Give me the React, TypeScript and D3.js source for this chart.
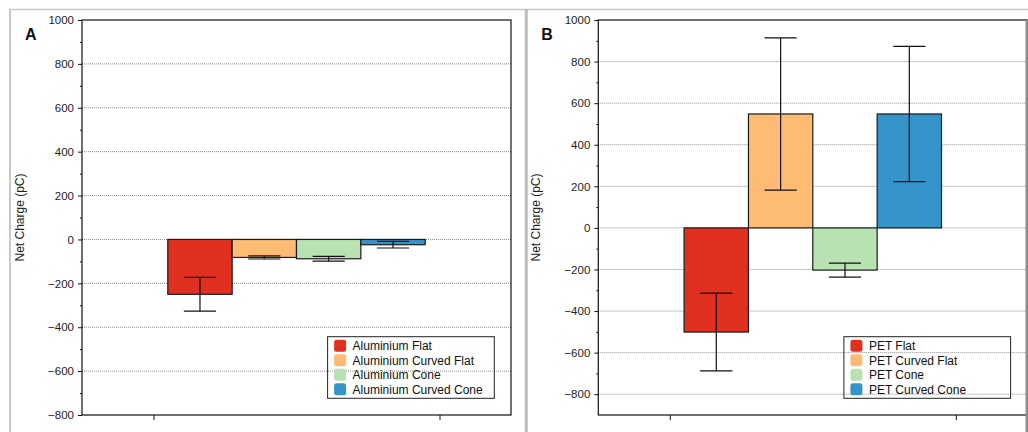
import React, { useEffect, useRef } from 'react';
import * as d3 from 'd3';

const aluLabels = ['Aluminium Flat', 'Aluminium Curved Flat', 'Aluminium Cone', 'Aluminium Curved Cone'];
const aluMeans = [-250, -82, -88, -24];
const aluErr = [77, 7, 11, 15];

const petLabels = ['PET Flat', 'PET Curved Flat', 'PET Cone', 'PET Curved Cone'];
const petMeans = [-501, 548, -203, 548];
const petErr = [187, 366, 34, 325];

const colors = ['#e1301f', '#fdbb74', '#b9e2b2', '#3594c8'];
const yTicks = [-800, -600, -400, -200, 0, 200, 400, 600, 800, 1000];

const W = 1028;
const H = 432;
const FONT = '"Liberation Sans", Arial, sans-serif';

type Panel = {
  tag: string;
  left: number;
  labels: string[];
  means: number[];
  errs: number[];
  yMin: number;
};

const drawPanel = (svg: d3.Selection<SVGSVGElement, unknown, null, undefined>, p: Panel) => {
  const top = 20;
  const bottom = 415;
  const w = 429;
  const x0 = p.left;

  const g = svg.append('g');

  // x positions: two ticks at 1 and 5, bars grouped in the middle
  const x = d3.scaleLinear().domain([0, 6]).range([x0, x0 + w]);
  const band = d3.scaleBand<number>().domain(d3.range(p.labels.length)).range([x(1.2), x(4.8)]).padding(0);
  const y = d3.scaleLinear().domain([p.yMin, 1000]).range([bottom, top]);

  // gridlines
  g.selectAll('.grid')
    .data(yTicks.filter((t) => t > p.yMin && t < 1000))
    .enter()
    .append('line')
    .attr('x1', x0)
    .attr('x2', x0 + w)
    .attr('y1', (d) => y(d))
    .attr('y2', (d) => y(d))
    .attr('stroke', '#8a8a8a')
    .attr('stroke-width', 1)
    .attr('stroke-dasharray', '1,1');

  // bars
  g.selectAll('.bar')
    .data(p.means)
    .enter()
    .append('rect')
    .attr('x', (d, i) => band(i)!)
    .attr('width', band.bandwidth())
    .attr('y', (d) => y(Math.max(0, d)))
    .attr('height', (d) => Math.abs(y(d) - y(0)))
    .attr('fill', (d, i) => colors[i])
    .attr('stroke', '#1a1a1a')
    .attr('stroke-width', 1.2);

  // error bars
  const capW = band.bandwidth() / 2;
  const eb = g.selectAll('.eb').data(p.means).enter().append('g');
  eb.append('line')
    .attr('x1', (d, i) => band(i)! + band.bandwidth() / 2)
    .attr('x2', (d, i) => band(i)! + band.bandwidth() / 2)
    .attr('y1', (d, i) => y(d - p.errs[i]))
    .attr('y2', (d, i) => y(d + p.errs[i]))
    .attr('stroke', '#111')
    .attr('stroke-width', 1.2);
  [-1, 1].forEach((s) => {
    eb.append('line')
      .attr('x1', (d, i) => band(i)! + band.bandwidth() / 2 - capW / 2)
      .attr('x2', (d, i) => band(i)! + band.bandwidth() / 2 + capW / 2)
      .attr('y1', (d, i) => y(d + s * p.errs[i]))
      .attr('y2', (d, i) => y(d + s * p.errs[i]))
      .attr('stroke', '#111')
      .attr('stroke-width', 1.2);
  });

  // frame
  g.append('rect')
    .attr('x', x0)
    .attr('y', top)
    .attr('width', w)
    .attr('height', bottom - top)
    .attr('fill', 'none')
    .attr('stroke', '#111')
    .attr('stroke-width', 1.2);

  // y axis
  const yAxis = g
    .append('g')
    .attr('transform', `translate(${x0},0)`)
    .call(d3.axisLeft(y).tickValues(yTicks).tickSize(4).tickPadding(4).tickFormat(d3.format('d')));
  yAxis.select('.domain').remove();
  yAxis.selectAll('text').attr('font-family', FONT).attr('font-size', 11.5).attr('fill', '#222');
  yAxis.selectAll('line').attr('stroke', '#111');

  const minor = g
    .append('g')
    .attr('transform', `translate(${x0},0)`)
    .call(d3.axisLeft(y).tickValues(d3.range(-700, 1000, 200).filter((t) => t > p.yMin)).tickSize(2).tickFormat(() => ''));
  minor.select('.domain').remove();
  minor.selectAll('line').attr('stroke', '#111');

  // x axis ticks
  const xAxis = g
    .append('g')
    .attr('transform', `translate(0,${bottom})`)
    .call(d3.axisBottom(x).tickValues([1, 5]).tickSize(5).tickFormat(() => ''));
  xAxis.select('.domain').remove();
  xAxis.selectAll('line').attr('stroke', '#111');

  // y title
  g.append('text')
    .attr('transform', `translate(${x0 - 58},${(top + bottom) / 2}) rotate(-90)`)
    .attr('text-anchor', 'middle')
    .attr('font-family', FONT)
    .attr('font-size', 12)
    .attr('fill', '#222')
    .text('Net Charge (pC)');

  // panel letter
  g.append('text')
    .attr('x', x0 - 57)
    .attr('y', 39.5)
    .attr('font-family', FONT)
    .attr('font-weight', 'bold')
    .attr('font-size', 16)
    .attr('fill', '#111')
    .text(p.tag);

  // legend
  const lw = 166.7;
  const lh = 61.6;
  const lx = x0 + w - 16.7 - lw;
  const ly = bottom - 16.7 - lh;
  const leg = g.append('g').attr('transform', `translate(${lx},${ly})`);
  leg.append('rect')
    .attr('width', lw)
    .attr('height', lh)
    .attr('fill', 'none')
    .attr('stroke', '#222')
    .attr('stroke-width', 1);
  const rows = leg
    .selectAll('.row')
    .data(p.labels)
    .enter()
    .append('g')
    .attr('transform', (d, i) => `translate(0,${9 + i * 14.5})`);
  rows.append('rect')
    .attr('x', 6.5)
    .attr('y', -6)
    .attr('width', 12)
    .attr('height', 12)
    .attr('rx', 2.5)
    .attr('fill', (d, i) => colors[i]);
  rows.append('text')
    .attr('x', 25)
    .attr('y', 4.3)
    .attr('font-family', FONT)
    .attr('font-size', 12)
    .attr('fill', '#111')
    .text((d) => d);
};

const App = () => {
  const svgRef = useRef<SVGSVGElement>(null);

  useEffect(() => {
    const svg = d3.select(svgRef.current!);
    svg.selectAll('*').remove();

    svg.append('rect').attr('width', W).attr('height', H).attr('fill', '#fff');

    drawPanel(svg, { tag: 'A', left: 82, labels: aluLabels, means: aluMeans, errs: aluErr, yMin: -800 });
    drawPanel(svg, { tag: 'B', left: 598.3, labels: petLabels, means: petMeans, errs: petErr, yMin: -900 });

    // panel borders
    svg.append('line').attr('x1', 9).attr('x2', W).attr('y1', 9.5).attr('y2', 9.5).attr('stroke', '#c8c8c8').attr('stroke-width', 1.5);
    svg.append('line').attr('x1', 10).attr('x2', 10).attr('y1', 9).attr('y2', H).attr('stroke', '#c8c8c8').attr('stroke-width', 2);
    svg.append('line').attr('x1', 526.3).attr('x2', 526.3).attr('y1', 9).attr('y2', H).attr('stroke', '#bcbcbc').attr('stroke-width', 3);
    svg.append('line').attr('x1', 1026.8).attr('x2', 1026.8).attr('y1', 20).attr('y2', H).attr('stroke', '#8c8c8c').attr('stroke-width', 2.5);
  }, []);

  return (
    <svg
      ref={svgRef}
      width={W}
      height={H}
      style={{ position: 'absolute', left: 0, top: 0 }}
    ></svg>
  );
};

export default App;
